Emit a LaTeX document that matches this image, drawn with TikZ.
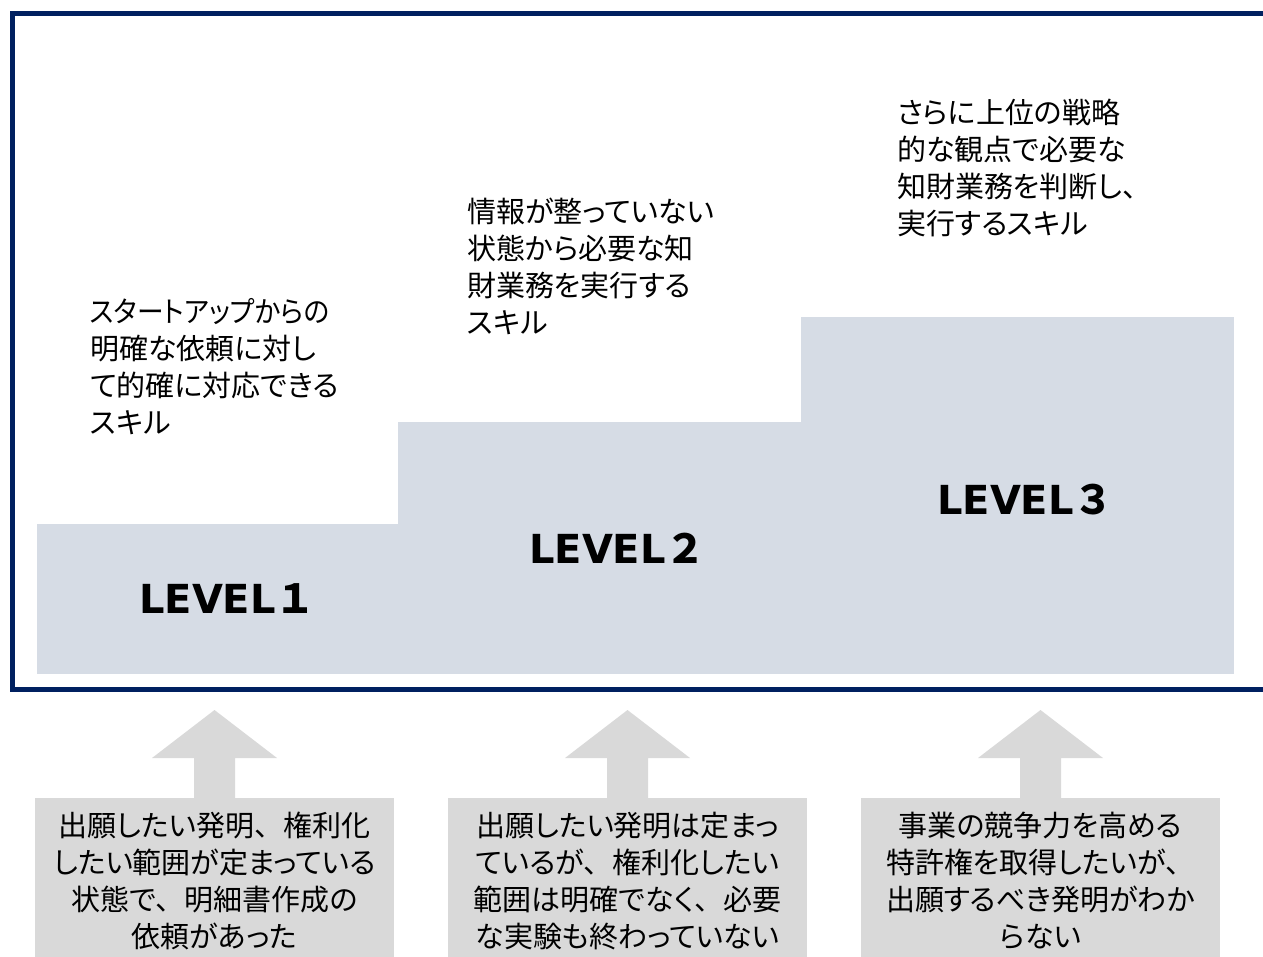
\documentclass[tikz,border=0pt]{standalone}
\usepackage{fontspec}
\newfontfamily\jp[RawFeature=+palt]{Noto Sans CJK JP}
\newfontfamily\jpf{Noto Sans CJK JP}
\newfontfamily\lvfont{DejaVu Sans}
\newcommand\fwc{{\jpf 、}}
\usetikzlibrary{calc}
\definecolor{navy}{HTML}{002060}
\definecolor{stepfill}{HTML}{D6DCE5}
\definecolor{boxgray}{HTML}{D9D9D9}
\tikzset{
  stepbox/.style={fill=stepfill, draw=none, inner sep=0, outer sep=0},
  lvl/.style={anchor=west, inner sep=0, font=\lvfont\bfseries\fontsize{40}{48}\selectfont},
  skill/.style={anchor=north west, inner sep=0, align=left, font=\jp\fontsize{29}{37}\selectfont},
  casebox/.style={fill=boxgray, draw=none, inner sep=0, outer sep=0, minimum width=359, minimum height=166, align=center, font=\jp\fontsize{29}{37}\selectfont},
  uparr/.style={fill=boxgray}
}
\begin{document}
\begin{tikzpicture}[x=1pt,y=-1pt]
\useasboundingbox (0,0) rectangle (1263,956);
\clip (0,0) rectangle (1263,956);
% frame
\draw[navy, line width=5] (1290,13.5) -- (12.5,13.5) -- (12.5,689.5) -- (1290,689.5);
% steps
\node[stepbox, minimum width=361, minimum height=150] (s1) at (217.5,599) {};
\node[stepbox, minimum width=403, minimum height=252] (s2) at (599.5,548) {};
\node[stepbox, minimum width=433, minimum height=357] (s3) at (1017.5,495.5) {};
% level labels
\node[lvl] (l1) at (139,599) {LEVEL{\jpf\bfseries １}};
\node[lvl] (l2) at (529,548) {LEVEL{\jpf\bfseries ２}};
\node[lvl] (l3) at (937,500) {LEVEL{\jpf\bfseries ３}};
% skill texts
\node[skill] (k1) at (90,298) {\scalebox{0.92}[1]{スタートアップからの}\\明確な依頼に対し\\て的確に対応できる\\スキル};
\node[skill] (k2) at (467,198) {情報が整っていない\\状態から必要な知\\財業務を実行する\\スキル};
\node[skill] (k3) at (897,99) {さらに上位の戦略\\的な観点で必要な\\知財業務を判断し\fwc\\実行するスキル};
% case boxes
\node[casebox] (b1) at (214.5,881) {出願したい発明\fwc 権利化\\したい範囲が定まっている\\状態で\fwc 明細書作成の\\依頼があった};
\node[casebox] (b2) at (627.5,881) {出願したい発明は定まっ\\ているが\fwc 権利化したい\\範囲は明確でなく\fwc 必要\\な実験も終わっていない};
\node[casebox] (b3) at (1040.5,881) {事業の競争力を高める\\特許権を取得したいが\fwc\\出願するべき発明がわか\\らない};
% block arrows
\foreach \b in {b1,b2,b3}{
  \fill[uparr] ($(\b.north)+(-20.5,1)$) -- ($(\b.north)+(-20.5,-40)$) -- ($(\b.north)+(-62.5,-40)$)
    -- ($(\b.north)+(0,-88)$) -- ($(\b.north)+(62.5,-40)$) -- ($(\b.north)+(20.5,-40)$)
    -- ($(\b.north)+(20.5,1)$) -- cycle;
}
\end{tikzpicture}
\end{document}
